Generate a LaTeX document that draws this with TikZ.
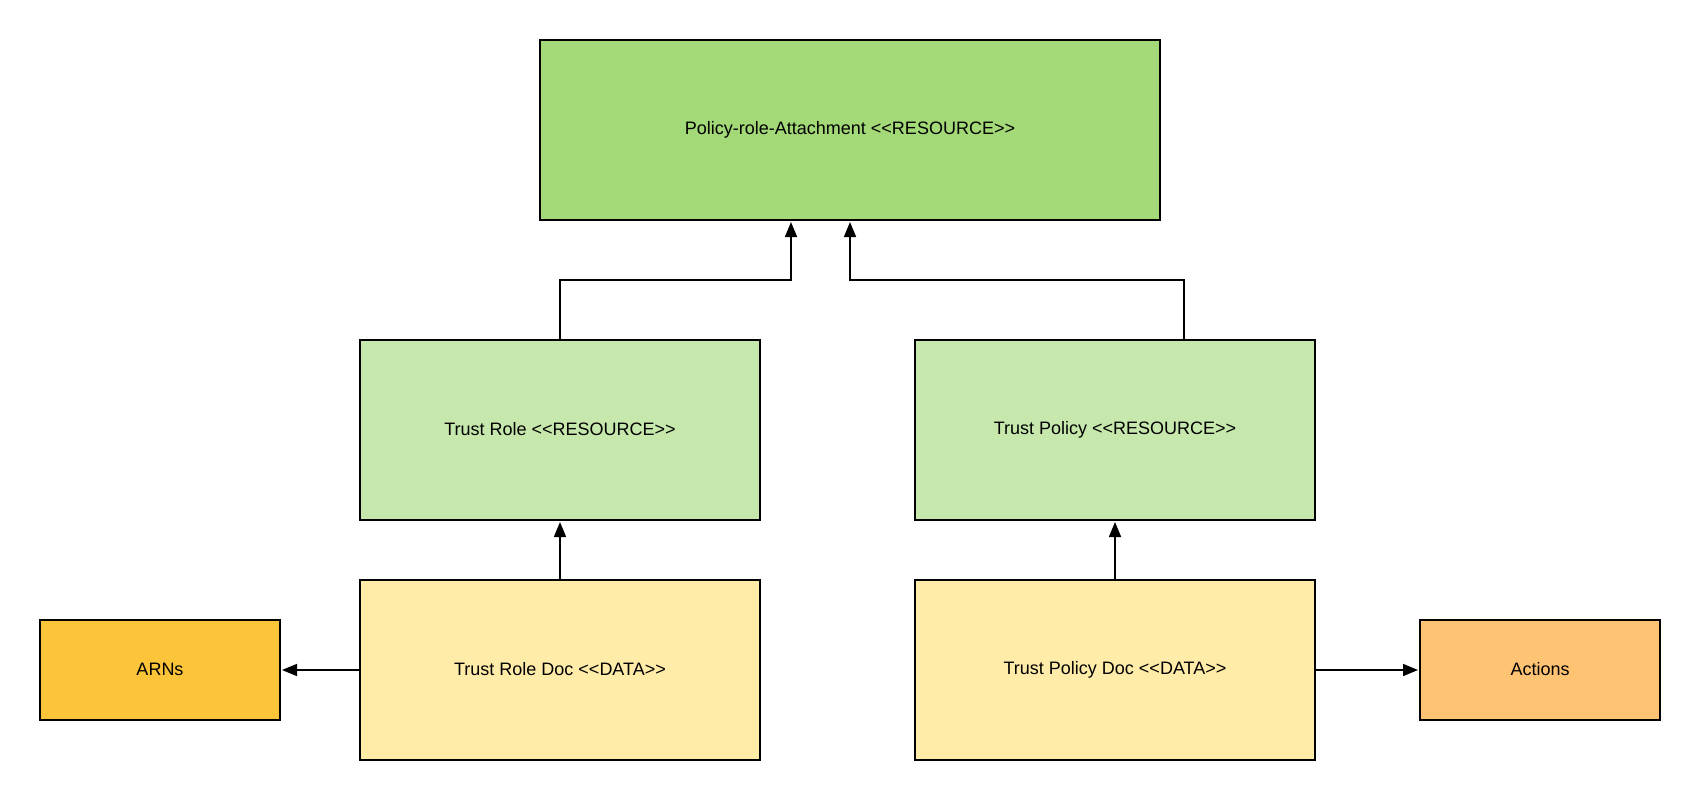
\documentclass[tikz,border=0pt]{standalone}
\usepackage{fontspec}
\setmainfont{Liberation Sans}
\usetikzlibrary{arrows.meta}
\definecolor{gdark}{HTML}{A3D977}
\definecolor{glight}{HTML}{C7E8AC}
\definecolor{ylight}{HTML}{FFECA9}
\definecolor{ydark}{HTML}{FCC438}
\definecolor{orng}{HTML}{FFC374}
\begin{document}
\begin{tikzpicture}[x=1pt,y=-1pt,
  box/.style={draw=black, line width=2pt, inner sep=0pt, font=\fontsize{18}{21}\selectfont},
  conn/.style={draw=black, line width=1.6pt, -{Triangle[length=15pt,width=12pt]}, shorten >=1pt}]
\useasboundingbox (0,0) rectangle (1700,800);
\node[box, fill=gdark, minimum width=620pt, minimum height=180pt] (top) at (850,130) {\raisebox{1.5pt}{Policy-role-Attachment <{}<RESOURCE>{}>}};
\node[box, fill=glight, minimum width=400pt, minimum height=180pt] (role) at (560,430) {\raisebox{1.5pt}{Trust Role <{}<RESOURCE>{}>}};
\node[box, fill=glight, minimum width=400pt, minimum height=180pt] (pol) at (1115,430) {\raisebox{1.5pt}{Trust Policy <{}<RESOURCE>{}>}};
\node[box, fill=ylight, minimum width=400pt, minimum height=180pt] (roledoc) at (560,670) {\raisebox{1.5pt}{Trust Role Doc <{}<DATA>{}>}};
\node[box, fill=ylight, minimum width=400pt, minimum height=180pt] (poldoc) at (1115,670) {\raisebox{1.5pt}{Trust Policy Doc <{}<DATA>{}>}};
\node[box, fill=ydark, minimum width=240pt, minimum height=100pt] (arns) at (160,670) {\raisebox{1.5pt}{ARNs}};
\node[box, fill=orng, minimum width=240pt, minimum height=100pt] (act) at (1540,670) {\raisebox{1.5pt}{Actions}};
\coordinate (j1) at (791,280);
\coordinate (j2) at (1184,280);
\draw[conn] (role.north) |- (j1) -- (j1 |- top.south);
\draw[conn] (j2 |- pol.north) -- (j2) -| (top.south);
\draw[conn] (roledoc.north) -- (role.south);
\draw[conn] (poldoc.north) -- (pol.south);
\draw[conn] (roledoc.west) -- (arns.east);
\draw[conn] (poldoc.east) -- (act.west);
\end{tikzpicture}
\end{document}
